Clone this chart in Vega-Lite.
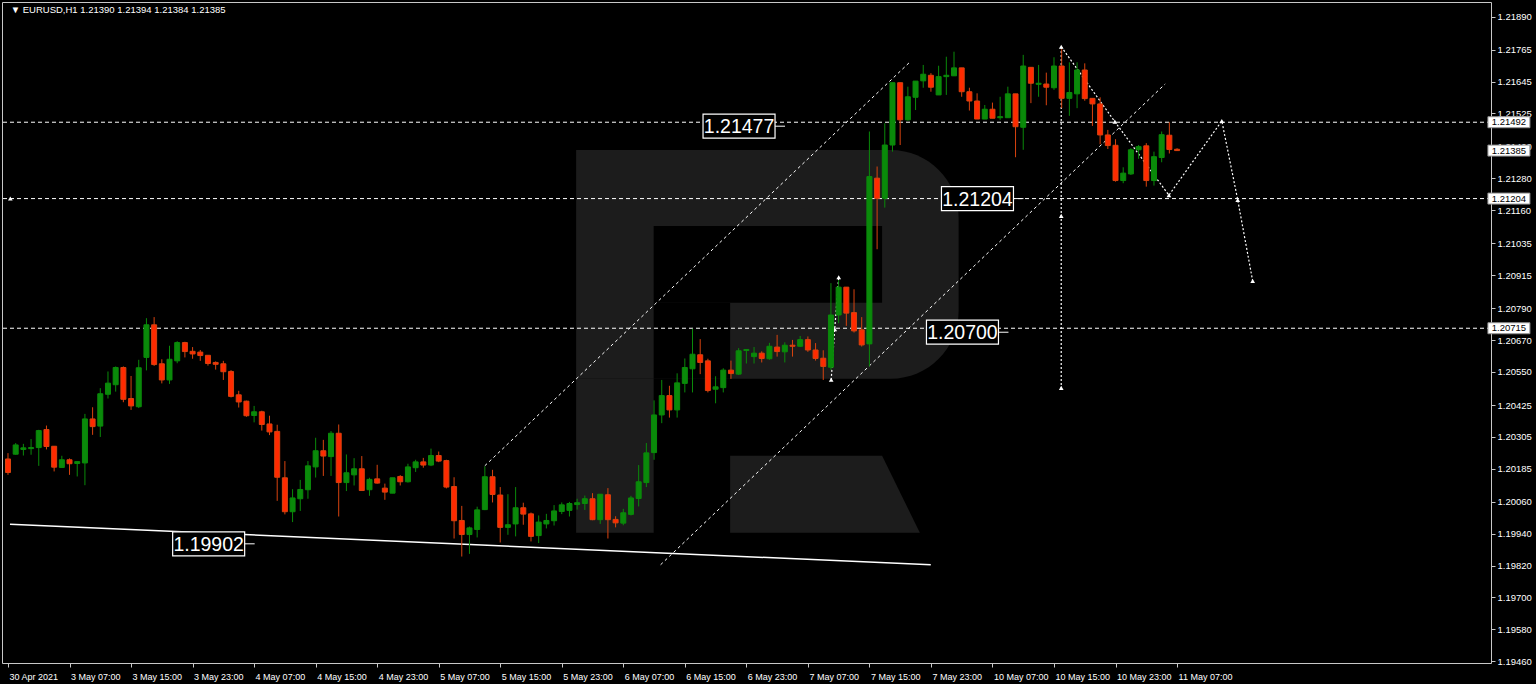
{
  "$schema": "https://vega.github.io/schema/vega-lite/v6.json",
  "width": 1489,
  "height": 661,
  "autosize": {"type": "none"},
  "padding": {"left": 2, "top": 2, "right": 45, "bottom": 21},
  "background": "#000000",
  "config": {
    "view": {"stroke": "#c8c8c8", "strokeWidth": 1, "fill": "#000000"},
    "font": "Liberation Sans",
    "axis": {"grid": false, "domain": false, "tickColor": "#c8c8c8", "tickSize": 4, "labelColor": "#ffffff", "labelFont": "Liberation Sans", "labelOverlap": false, "labelFlush": false}
  },
  "resolve": {"axis": {"x": "independent", "y": "independent"}},
  "datasets": {
    "candles": [
      {"i":0,"o":1.20222,"h":1.20244,"l":1.20162,"c":1.20171},
      {"i":1,"o":1.20240,"h":1.20282,"l":1.20238,"c":1.20275},
      {"i":2,"o":1.20258,"h":1.20279,"l":1.20235,"c":1.20264},
      {"i":3,"o":1.20261,"h":1.20297,"l":1.20238,"c":1.20265},
      {"i":4,"o":1.20265,"h":1.20332,"l":1.20196,"c":1.20329},
      {"i":5,"o":1.20333,"h":1.20348,"l":1.20258,"c":1.20269},
      {"i":6,"o":1.20270,"h":1.20270,"l":1.20175,"c":1.20191},
      {"i":7,"o":1.20190,"h":1.20234,"l":1.20190,"c":1.20219},
      {"i":8,"o":1.20219,"h":1.20224,"l":1.20162,"c":1.20204},
      {"i":9,"o":1.20205,"h":1.20212,"l":1.20156,"c":1.20212},
      {"i":10,"o":1.20207,"h":1.20392,"l":1.20123,"c":1.20373},
      {"i":11,"o":1.20373,"h":1.20417,"l":1.20313,"c":1.20344},
      {"i":12,"o":1.20346,"h":1.20489,"l":1.20305,"c":1.20468},
      {"i":13,"o":1.20466,"h":1.20552,"l":1.20450,"c":1.20508},
      {"i":14,"o":1.20502,"h":1.20571,"l":1.20476,"c":1.20567},
      {"i":15,"o":1.20567,"h":1.20571,"l":1.20436,"c":1.20447},
      {"i":16,"o":1.20450,"h":1.20535,"l":1.20407,"c":1.20422},
      {"i":17,"o":1.20419,"h":1.20596,"l":1.20414,"c":1.20566},
      {"i":18,"o":1.20605,"h":1.20753,"l":1.20556,"c":1.20728},
      {"i":19,"o":1.20728,"h":1.20757,"l":1.20573,"c":1.20578},
      {"i":20,"o":1.20581,"h":1.20598,"l":1.20507,"c":1.20520},
      {"i":21,"o":1.20520,"h":1.20649,"l":1.20505,"c":1.20598},
      {"i":22,"o":1.20592,"h":1.20666,"l":1.20583,"c":1.20661},
      {"i":23,"o":1.20661,"h":1.20664,"l":1.20605,"c":1.20627},
      {"i":24,"o":1.20628,"h":1.20644,"l":1.20600,"c":1.20618},
      {"i":25,"o":1.20625,"h":1.20633,"l":1.20592,"c":1.20612},
      {"i":26,"o":1.20613,"h":1.20613,"l":1.20574,"c":1.20582},
      {"i":27,"o":1.20586,"h":1.20590,"l":1.20559,"c":1.20579},
      {"i":28,"o":1.20581,"h":1.20592,"l":1.20520,"c":1.20551},
      {"i":29,"o":1.20552,"h":1.20557,"l":1.20454,"c":1.20458},
      {"i":30,"o":1.20464,"h":1.20479,"l":1.20416,"c":1.20437},
      {"i":31,"o":1.20440,"h":1.20442,"l":1.20381,"c":1.20385},
      {"i":32,"o":1.20386,"h":1.20422,"l":1.20360,"c":1.20400},
      {"i":33,"o":1.20400,"h":1.20404,"l":1.20329,"c":1.20352},
      {"i":34,"o":1.20354,"h":1.20385,"l":1.20312,"c":1.20324},
      {"i":35,"o":1.20326,"h":1.20351,"l":1.20064,"c":1.20153},
      {"i":36,"o":1.20151,"h":1.20214,"l":1.20013,"c":1.20023},
      {"i":37,"o":1.20023,"h":1.20108,"l":1.19984,"c":1.20075},
      {"i":38,"o":1.20072,"h":1.20143,"l":1.20026,"c":1.20107},
      {"i":39,"o":1.20106,"h":1.20214,"l":1.20072,"c":1.20196},
      {"i":40,"o":1.20192,"h":1.20302,"l":1.20152,"c":1.20253},
      {"i":41,"o":1.20253,"h":1.20294,"l":1.20158,"c":1.20233},
      {"i":42,"o":1.20231,"h":1.20327,"l":1.20158,"c":1.20319},
      {"i":43,"o":1.20319,"h":1.20352,"l":1.20005,"c":1.20133},
      {"i":44,"o":1.20133,"h":1.20239,"l":1.20101,"c":1.20170},
      {"i":45,"o":1.20162,"h":1.20225,"l":1.20122,"c":1.20185},
      {"i":46,"o":1.20185,"h":1.20233,"l":1.20103,"c":1.20103},
      {"i":47,"o":1.20106,"h":1.20151,"l":1.20083,"c":1.20145},
      {"i":48,"o":1.20147,"h":1.20200,"l":1.20129,"c":1.20131},
      {"i":49,"o":1.20112,"h":1.20129,"l":1.20068,"c":1.20097},
      {"i":50,"o":1.20093,"h":1.20151,"l":1.20093,"c":1.20151},
      {"i":51,"o":1.20156,"h":1.20161,"l":1.20122,"c":1.20136},
      {"i":52,"o":1.20136,"h":1.20204,"l":1.20133,"c":1.20192},
      {"i":53,"o":1.20189,"h":1.20219,"l":1.20173,"c":1.20211},
      {"i":54,"o":1.20211,"h":1.20226,"l":1.20189,"c":1.20199},
      {"i":55,"o":1.20199,"h":1.20261,"l":1.20195,"c":1.20235},
      {"i":56,"o":1.20235,"h":1.20250,"l":1.20210,"c":1.20214},
      {"i":57,"o":1.20216,"h":1.20219,"l":1.20111,"c":1.20116},
      {"i":58,"o":1.20118,"h":1.20153,"l":1.19922,"c":1.19989},
      {"i":59,"o":1.19990,"h":1.20045,"l":1.19854,"c":1.19937},
      {"i":60,"o":1.19937,"h":1.19967,"l":1.19864,"c":1.19962},
      {"i":61,"o":1.19956,"h":1.20042,"l":1.19926,"c":1.20030},
      {"i":62,"o":1.20031,"h":1.20194,"l":1.20029,"c":1.20155},
      {"i":63,"o":1.20155,"h":1.20181,"l":1.20058,"c":1.20088},
      {"i":64,"o":1.20086,"h":1.20116,"l":1.19907,"c":1.19964},
      {"i":65,"o":1.19964,"h":1.20089,"l":1.19936,"c":1.19974},
      {"i":66,"o":1.19977,"h":1.20116,"l":1.19930,"c":1.20038},
      {"i":67,"o":1.20038,"h":1.20057,"l":1.19974,"c":1.20014},
      {"i":68,"o":1.20015,"h":1.20020,"l":1.19911,"c":1.19930},
      {"i":69,"o":1.19933,"h":1.20009,"l":1.19905,"c":1.19984},
      {"i":70,"o":1.19977,"h":1.20015,"l":1.19960,"c":1.19990},
      {"i":71,"o":1.19989,"h":1.20048,"l":1.19971,"c":1.20026},
      {"i":72,"o":1.20024,"h":1.20058,"l":1.20014,"c":1.20049},
      {"i":73,"o":1.20028,"h":1.20060,"l":1.20005,"c":1.20054},
      {"i":74,"o":1.20050,"h":1.20072,"l":1.20031,"c":1.20057},
      {"i":75,"o":1.20054,"h":1.20084,"l":1.20030,"c":1.20072},
      {"i":76,"o":1.20072,"h":1.20093,"l":1.19991,"c":1.19993},
      {"i":77,"o":1.19993,"h":1.20089,"l":1.19977,"c":1.20089},
      {"i":78,"o":1.20087,"h":1.20112,"l":1.19922,"c":1.19993},
      {"i":79,"o":1.19994,"h":1.20006,"l":1.19964,"c":1.19981},
      {"i":80,"o":1.19980,"h":1.20034,"l":1.19972,"c":1.20019},
      {"i":81,"o":1.20013,"h":1.20083,"l":1.20009,"c":1.20075},
      {"i":82,"o":1.20073,"h":1.20199,"l":1.20043,"c":1.20136},
      {"i":83,"o":1.20133,"h":1.20282,"l":1.20116,"c":1.20245},
      {"i":84,"o":1.20246,"h":1.20443,"l":1.20219,"c":1.20388},
      {"i":85,"o":1.20388,"h":1.20520,"l":1.20357,"c":1.20461},
      {"i":86,"o":1.20461,"h":1.20498,"l":1.20378,"c":1.20407},
      {"i":87,"o":1.20407,"h":1.20545,"l":1.20378,"c":1.20509},
      {"i":88,"o":1.20507,"h":1.20601,"l":1.20473,"c":1.20567},
      {"i":89,"o":1.20562,"h":1.20713,"l":1.20473,"c":1.20617},
      {"i":90,"o":1.20615,"h":1.20674,"l":1.20542,"c":1.20586},
      {"i":91,"o":1.20592,"h":1.20600,"l":1.20473,"c":1.20480},
      {"i":92,"o":1.20485,"h":1.20534,"l":1.20432,"c":1.20494},
      {"i":93,"o":1.20491,"h":1.20564,"l":1.20473,"c":1.20557},
      {"i":94,"o":1.20557,"h":1.20593,"l":1.20524,"c":1.20544},
      {"i":95,"o":1.20542,"h":1.20640,"l":1.20539,"c":1.20630},
      {"i":96,"o":1.20631,"h":1.20636,"l":1.20582,"c":1.20635},
      {"i":97,"o":1.20608,"h":1.20644,"l":1.20582,"c":1.20621},
      {"i":98,"o":1.20621,"h":1.20628,"l":1.20586,"c":1.20601},
      {"i":99,"o":1.20600,"h":1.20660,"l":1.20596,"c":1.20647},
      {"i":100,"o":1.20644,"h":1.20690,"l":1.20608,"c":1.20627},
      {"i":101,"o":1.20626,"h":1.20662,"l":1.20586,"c":1.20651},
      {"i":102,"o":1.20651,"h":1.20671,"l":1.20608,"c":1.20647},
      {"i":103,"o":1.20647,"h":1.20686,"l":1.20644,"c":1.20672},
      {"i":104,"o":1.20672,"h":1.20684,"l":1.20626,"c":1.20633},
      {"i":105,"o":1.20633,"h":1.20659,"l":1.20593,"c":1.20601},
      {"i":106,"o":1.20602,"h":1.20632,"l":1.20520,"c":1.20571},
      {"i":107,"o":1.20568,"h":1.20885,"l":1.20558,"c":1.20765},
      {"i":108,"o":1.20765,"h":1.20897,"l":1.20734,"c":1.20870},
      {"i":109,"o":1.20870,"h":1.20870,"l":1.20724,"c":1.20772},
      {"i":110,"o":1.20774,"h":1.20862,"l":1.20699,"c":1.20705},
      {"i":111,"o":1.20709,"h":1.20757,"l":1.20646,"c":1.20652},
      {"i":112,"o":1.20656,"h":1.21457,"l":1.20571,"c":1.21287},
      {"i":113,"o":1.21281,"h":1.21325,"l":1.21013,"c":1.21205},
      {"i":114,"o":1.21205,"h":1.21488,"l":1.21170,"c":1.21406},
      {"i":115,"o":1.21406,"h":1.21641,"l":1.21381,"c":1.21641},
      {"i":116,"o":1.21641,"h":1.21641,"l":1.21406,"c":1.21501},
      {"i":117,"o":1.21501,"h":1.21626,"l":1.21498,"c":1.21588},
      {"i":118,"o":1.21586,"h":1.21647,"l":1.21538,"c":1.21647},
      {"i":119,"o":1.21648,"h":1.21708,"l":1.21622,"c":1.21673},
      {"i":120,"o":1.21669,"h":1.21677,"l":1.21607,"c":1.21624},
      {"i":121,"o":1.21595,"h":1.21705,"l":1.21595,"c":1.21664},
      {"i":122,"o":1.21664,"h":1.21739,"l":1.21595,"c":1.21669},
      {"i":123,"o":1.21667,"h":1.21758,"l":1.21667,"c":1.21697},
      {"i":124,"o":1.21697,"h":1.21697,"l":1.21588,"c":1.21607},
      {"i":125,"o":1.21607,"h":1.21622,"l":1.21536,"c":1.21572},
      {"i":126,"o":1.21572,"h":1.21601,"l":1.21504,"c":1.21504},
      {"i":127,"o":1.21504,"h":1.21557,"l":1.21504,"c":1.21541},
      {"i":128,"o":1.21541,"h":1.21566,"l":1.21507,"c":1.21507},
      {"i":129,"o":1.21509,"h":1.21588,"l":1.21501,"c":1.21513},
      {"i":130,"o":1.21509,"h":1.21626,"l":1.21509,"c":1.21599},
      {"i":131,"o":1.21599,"h":1.21599,"l":1.21360,"c":1.21475},
      {"i":132,"o":1.21473,"h":1.21746,"l":1.21388,"c":1.21704},
      {"i":133,"o":1.21699,"h":1.21699,"l":1.21564,"c":1.21639},
      {"i":134,"o":1.21635,"h":1.21708,"l":1.21588,"c":1.21639},
      {"i":135,"o":1.21636,"h":1.21679,"l":1.21556,"c":1.21624},
      {"i":136,"o":1.21622,"h":1.21737,"l":1.21614,"c":1.21704},
      {"i":137,"o":1.21704,"h":1.21768,"l":1.21545,"c":1.21582},
      {"i":138,"o":1.21582,"h":1.21718,"l":1.21516,"c":1.21604},
      {"i":139,"o":1.21599,"h":1.21718,"l":1.21545,"c":1.21689},
      {"i":140,"o":1.21689,"h":1.21714,"l":1.21573,"c":1.21581},
      {"i":141,"o":1.21582,"h":1.21582,"l":1.21478,"c":1.21561},
      {"i":142,"o":1.21561,"h":1.21586,"l":1.21409,"c":1.21444},
      {"i":143,"o":1.21444,"h":1.21463,"l":1.21391,"c":1.21404},
      {"i":144,"o":1.21405,"h":1.21428,"l":1.21268,"c":1.21272},
      {"i":145,"o":1.21272,"h":1.21322,"l":1.21262,"c":1.21300},
      {"i":146,"o":1.21297,"h":1.21394,"l":1.21293,"c":1.21388},
      {"i":147,"o":1.21388,"h":1.21406,"l":1.21354,"c":1.21400},
      {"i":148,"o":1.21403,"h":1.21413,"l":1.21249,"c":1.21272},
      {"i":149,"o":1.21272,"h":1.21381,"l":1.21253,"c":1.21362},
      {"i":150,"o":1.21359,"h":1.21457,"l":1.21341,"c":1.21445},
      {"i":151,"o":1.21443,"h":1.21492,"l":1.21374,"c":1.21389},
      {"i":152,"o":1.21390,"h":1.21394,"l":1.21384,"c":1.21385}
    ],
    "channels": [
      {"id":"up","k":0,"x":61.99,"y":1.201962},
      {"id":"up","k":1,"x":117.14,"y":1.217155},
      {"id":"lo","k":0,"x":84.85,"y":1.19823},
      {"id":"lo","k":1,"x":150.46,"y":1.216363}
    ],
    "support": [
      {"k":0,"x":0.26,"y":1.199757},
      {"k":1,"x":119.98,"y":1.19823}
    ],
    "forecast": [
      {"id":"a","k":0,"x":107.03,"y":1.205204},
      {"id":"a","k":1,"x":107.49,"y":1.207116},
      {"id":"a","k":2,"x":108.01,"y":1.209076},
      {"id":"b","k":0,"x":136.94,"y":1.217769},
      {"id":"b","k":1,"x":143.91,"y":1.214942},
      {"id":"b","k":2,"x":150.94,"y":1.212167},
      {"id":"b","k":3,"x":157.82,"y":1.214968},
      {"id":"b","k":4,"x":159.89,"y":1.21199},
      {"id":"b","k":5,"x":161.83,"y":1.208936},
      {"id":"c","k":0,"x":136.94,"y":1.217758},
      {"id":"c","k":1,"x":136.94,"y":1.204827}
    ],
    "markers": [
      {"x":107.03,"y":1.205204},
      {"x":107.49,"y":1.207116},
      {"x":108.01,"y":1.209076},
      {"x":136.94,"y":1.217769},
      {"x":143.91,"y":1.214942},
      {"x":150.94,"y":1.212167},
      {"x":157.82,"y":1.214968},
      {"x":159.89,"y":1.21199},
      {"x":161.83,"y":1.208936},
      {"x":136.94,"y":1.211387},
      {"x":136.94,"y":1.204902},
      {"x":0.3,"y":1.21204}
    ],
    "levels": [
      {"v":1.21492},
      {"v":1.21204},
      {"v":1.20715}
    ],
    "labels": [
      {"i":95.05,"v":1.21477,"t":"1.21477"},
      {"i":126.05,"v":1.21204,"t":"1.21204"},
      {"i":124.1,"v":1.20700,"t":"1.20700"},
      {"i":26.09,"v":1.19902,"t":"1.19902"}
    ],
    "axisboxes": [
      {"v":1.21492,"t":"1.21492"},
      {"v":1.21385,"t":"1.21385"},
      {"v":1.21204,"t":"1.21204"},
      {"v":1.20715,"t":"1.20715"}
    ]
  },
  "layer": [
    {
      "data": {"values": [{"x1":73.87,"x2":123.6,"y1":1.213875,"y2":1.205242}]},
      "mark": {"type": "rect", "color": "#1c1c1c", "cornerRadiusTopRight": 68, "cornerRadiusBottomRight": 68},
      "encoding": {
        "x": {"field": "x1", "type": "quantitative", "title": null, "scale": {"domain": [-0.13, 192.17], "nice": false, "zero": false},
          "axis": {"orient": "bottom", "values": [0,8,16,24,32,40,48,56,64,72,80,88,96,104,112,120,128,136,144,152],
            "labelExpr": "['30 Apr 2021','3 May 07:00','3 May 15:00','3 May 23:00','4 May 07:00','4 May 15:00','4 May 23:00','5 May 07:00','5 May 15:00','5 May 23:00','6 May 07:00','6 May 15:00','6 May 23:00','7 May 07:00','7 May 15:00','7 May 23:00','10 May 07:00','10 May 15:00','10 May 23:00','11 May 07:00'][round(datum.value/8)]",
            "title": null, "grid": false, "domain": false, "tickColor": "#c8c8c8", "tickSize": 4,
            "labelColor": "#ffffff", "labelFont": "Liberation Sans", "labelFontSize": 9, "labelAlign": "left",
            "labelPadding": 5, "labelOffset": 1, "labelFlush": false, "labelOverlap": false}},
        "x2": {"field": "x2"},
        "y": {"field": "y1", "type": "quantitative", "title": null, "scale": {"domain": [1.194525, 1.219454], "nice": false, "zero": false},
          "axis": {"orient": "right",
            "values": [1.21890,1.21765,1.21645,1.21525,1.21400,1.21280,1.21160,1.21035,1.20915,1.20790,1.20670,1.20550,1.20425,1.20305,1.20185,1.20060,1.19940,1.19820,1.19700,1.19580,1.19460],
            "format": ".5f", "title": null, "grid": false, "domain": false, "tickColor": "#c8c8c8", "tickSize": 4,
            "labelColor": "#ffffff", "labelFont": "Liberation Sans", "labelFontSize": 9.5, "labelPadding": 2,
            "labelOverlap": false, "labelFlush": false, "labelSeparation": 0, "labelBound": false}},
        "y2": {"field": "y2"}
      }
    },
    {
      "data": {"values": [
        {"x1":83.95,"x2":113.65,"y1":1.21101,"y2":1.208107},
        {"x1":83.95,"x2":93.89,"y1":1.208107,"y2":1.205242}
      ]},
      "mark": {"type": "rect", "color": "#000000"},
      "encoding": {
        "x": {"field": "x1", "type": "quantitative", "axis": null, "scale": {"domain": [-0.13, 192.17], "nice": false, "zero": false}},
        "x2": {"field": "x2"},
        "y": {"field": "y1", "type": "quantitative", "axis": null, "scale": {"domain": [1.194525, 1.219454], "nice": false, "zero": false}},
        "y2": {"field": "y2"}
      }
    },
    {
      "data": {"values": [{"x1":73.87,"x2":83.95,"y1":1.205242,"y2":1.199436}]},
      "mark": {"type": "rect", "color": "#1c1c1c"},
      "encoding": {
        "x": {"field": "x1", "type": "quantitative", "axis": null, "scale": {"domain": [-0.13, 192.17], "nice": false, "zero": false}},
        "x2": {"field": "x2"},
        "y": {"field": "y1", "type": "quantitative", "axis": null, "scale": {"domain": [1.194525, 1.219454], "nice": false, "zero": false}},
        "y2": {"field": "y2"}
      }
    },
    {
      "data": {"values": [
        {"x":93.89,"top":1.202339,"bot":1.199436},
        {"x":113.65,"top":1.202339,"bot":1.199436},
        {"x":118.56,"top":1.199436,"bot":1.199436}
      ]},
      "mark": {"type": "area", "color": "#1c1c1c", "orient": "vertical"},
      "encoding": {
        "x": {"field": "x", "type": "quantitative", "axis": null, "scale": {"domain": [-0.13, 192.17], "nice": false, "zero": false}},
        "y": {"field": "top", "type": "quantitative", "axis": null, "scale": {"domain": [1.194525, 1.219454], "nice": false, "zero": false}},
        "y2": {"field": "bot"}
      }
    },
    {
      "data": {"name": "levels"},
      "mark": {"type": "rule", "color": "#ffffff", "strokeWidth": 1, "strokeDash": [4, 3]},
      "encoding": {
        "y": {"field": "v", "type": "quantitative", "axis": null, "scale": {"domain": [1.194525, 1.219454], "nice": false, "zero": false}}
      }
    },
    {
      "data": {"name": "support"},
      "mark": {"type": "line", "color": "#ffffff", "strokeWidth": 1.5},
      "encoding": {
        "x": {"field": "x", "type": "quantitative", "axis": null, "scale": {"domain": [-0.13, 192.17], "nice": false, "zero": false}},
        "y": {"field": "y", "type": "quantitative", "axis": null, "scale": {"domain": [1.194525, 1.219454], "nice": false, "zero": false}},
        "order": {"field": "k"}
      }
    },
    {
      "data": {"name": "channels"},
      "mark": {"type": "line", "color": "#ffffff", "strokeWidth": 1, "strokeDash": [3, 3]},
      "encoding": {
        "x": {"field": "x", "type": "quantitative", "axis": null, "scale": {"domain": [-0.13, 192.17], "nice": false, "zero": false}},
        "y": {"field": "y", "type": "quantitative", "axis": null, "scale": {"domain": [1.194525, 1.219454], "nice": false, "zero": false}},
        "detail": {"field": "id"},
        "order": {"field": "k"}
      }
    },
    {
      "data": {"name": "forecast"},
      "mark": {"type": "line", "color": "#ffffff", "strokeWidth": 1.2, "strokeDash": [2, 2]},
      "encoding": {
        "x": {"field": "x", "type": "quantitative", "axis": null, "scale": {"domain": [-0.13, 192.17], "nice": false, "zero": false}},
        "y": {"field": "y", "type": "quantitative", "axis": null, "scale": {"domain": [1.194525, 1.219454], "nice": false, "zero": false}},
        "detail": {"field": "id"},
        "order": {"field": "k"}
      }
    },
    {
      "data": {"name": "markers"},
      "mark": {"type": "point", "shape": "triangle-up", "size": 22, "filled": true, "color": "#ffffff", "opacity": 1},
      "encoding": {
        "x": {"field": "x", "type": "quantitative", "axis": null, "scale": {"domain": [-0.13, 192.17], "nice": false, "zero": false}},
        "y": {"field": "y", "type": "quantitative", "axis": null, "scale": {"domain": [1.194525, 1.219454], "nice": false, "zero": false}}
      }
    },
    {
      "data": {"name": "candles"},
      "mark": {"type": "rule", "strokeWidth": 1},
      "encoding": {
        "x": {"field": "i", "type": "quantitative", "axis": null, "scale": {"domain": [-0.13, 192.17], "nice": false, "zero": false}},
        "y": {"field": "l", "type": "quantitative", "axis": null, "scale": {"domain": [1.194525, 1.219454], "nice": false, "zero": false}},
        "y2": {"field": "h"},
        "color": {"condition": {"test": "datum.c < datum.o", "value": "#d8430f"}, "value": "#0a8a0a"}
      }
    },
    {
      "data": {"name": "candles"},
      "mark": {"type": "bar", "size": 5, "strokeWidth": 1},
      "encoding": {
        "x": {"field": "i", "type": "quantitative", "axis": null, "scale": {"domain": [-0.13, 192.17], "nice": false, "zero": false}},
        "y": {"field": "o", "type": "quantitative", "axis": null, "scale": {"domain": [1.194525, 1.219454], "nice": false, "zero": false}},
        "y2": {"field": "c"},
        "fill": {"condition": {"test": "datum.c < datum.o", "value": "#ff2a00"}, "value": "#0a8a0a"},
        "stroke": {"condition": {"test": "datum.c < datum.o", "value": "#d8430f"}, "value": "#0a8a0a"}
      }
    },
    {
      "data": {"name": "labels"},
      "mark": {"type": "rule", "color": "#ffffff", "strokeWidth": 1, "xOffset": 36, "x2Offset": 46},
      "encoding": {
        "x": {"field": "i", "type": "quantitative", "axis": null, "scale": {"domain": [-0.13, 192.17], "nice": false, "zero": false}},
        "x2": {"field": "i"},
        "y": {"field": "v", "type": "quantitative", "axis": null, "scale": {"domain": [1.194525, 1.219454], "nice": false, "zero": false}}
      }
    },
    {
      "data": {"name": "labels"},
      "mark": {"type": "point", "shape": "M-1,-0.3333L1,-0.3333L1,0.3333L-1,0.3333Z", "size": 5184, "filled": true, "fill": "#000000", "stroke": "#ffffff", "strokeWidth": 1.2, "opacity": 1},
      "encoding": {
        "x": {"field": "i", "type": "quantitative", "axis": null, "scale": {"domain": [-0.13, 192.17], "nice": false, "zero": false}},
        "y": {"field": "v", "type": "quantitative", "axis": null, "scale": {"domain": [1.194525, 1.219454], "nice": false, "zero": false}}
      }
    },
    {
      "data": {"name": "labels"},
      "mark": {"type": "text", "color": "#ffffff", "font": "Liberation Sans", "fontSize": 19.5, "align": "center", "baseline": "middle", "dy": 1},
      "encoding": {
        "x": {"field": "i", "type": "quantitative", "axis": null, "scale": {"domain": [-0.13, 192.17], "nice": false, "zero": false}},
        "y": {"field": "v", "type": "quantitative", "axis": null, "scale": {"domain": [1.194525, 1.219454], "nice": false, "zero": false}},
        "text": {"field": "t"}
      }
    },
    {
      "data": {"name": "axisboxes"},
      "mark": {"type": "point", "shape": "M-1,-0.262L1,-0.262L1,0.262L-1,0.262Z", "size": 1764, "filled": true, "fill": "#ffffff", "stroke": "#909090", "strokeWidth": 1, "opacity": 1},
      "encoding": {
        "x": {"datum": 195.15, "type": "quantitative", "axis": null, "scale": {"domain": [-0.13, 192.17], "nice": false, "zero": false}},
        "y": {"field": "v", "type": "quantitative", "axis": null, "scale": {"domain": [1.194525, 1.219454], "nice": false, "zero": false}}
      }
    },
    {
      "data": {"name": "axisboxes"},
      "mark": {"type": "text", "color": "#000000", "font": "Liberation Sans", "fontSize": 9.5, "align": "center", "baseline": "middle"},
      "encoding": {
        "x": {"datum": 195.15, "type": "quantitative", "axis": null, "scale": {"domain": [-0.13, 192.17], "nice": false, "zero": false}},
        "y": {"field": "v", "type": "quantitative", "axis": null, "scale": {"domain": [1.194525, 1.219454], "nice": false, "zero": false}},
        "text": {"field": "t"}
      }
    },
    {
      "data": {"values": [{"t": "▼ EURUSD,H1  1.21390 1.21394 1.21384 1.21385", "x": 0.35, "y": 1.219153}]},
      "mark": {"type": "text", "color": "#ffffff", "font": "Liberation Sans", "fontSize": 9.5, "align": "left", "baseline": "middle"},
      "encoding": {
        "x": {"field": "x", "type": "quantitative", "axis": null, "scale": {"domain": [-0.13, 192.17], "nice": false, "zero": false}},
        "y": {"field": "y", "type": "quantitative", "axis": null, "scale": {"domain": [1.194525, 1.219454], "nice": false, "zero": false}},
        "text": {"field": "t"}
      }
    }
  ]
}
